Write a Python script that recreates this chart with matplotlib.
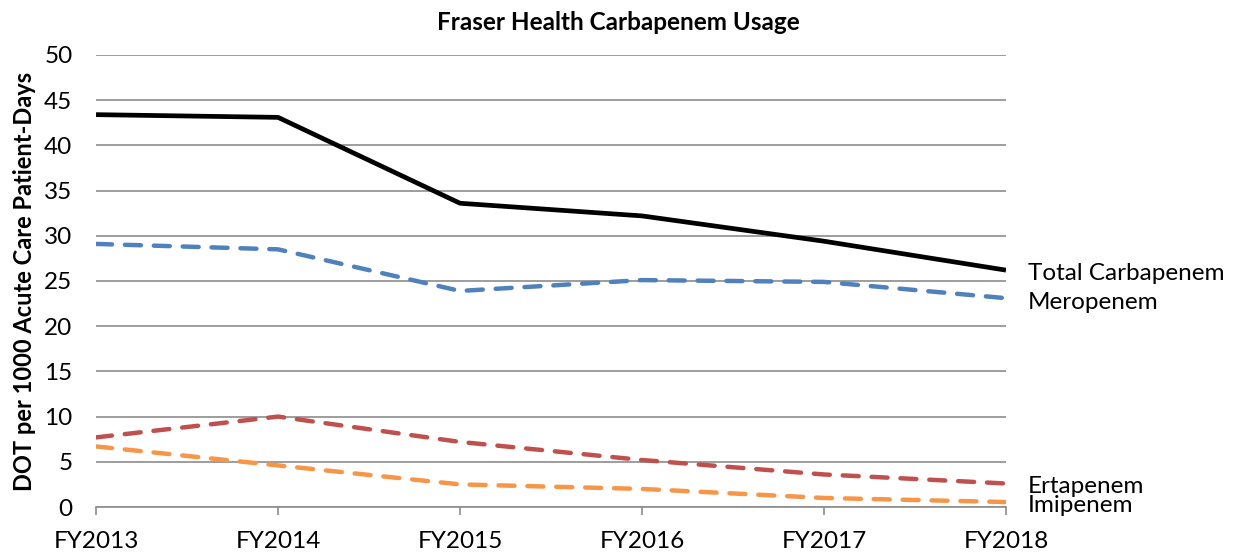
import matplotlib
matplotlib.use("Agg")
import matplotlib.pyplot as plt

plt.rcParams['font.family'] = ['Lato', 'DejaVu Sans']

years = ['FY2013', 'FY2014', 'FY2015', 'FY2016', 'FY2017', 'FY2018']
total = [43.4, 43.1, 33.6, 32.2, 29.4, 26.2]
meropenem = [29.1, 28.5, 23.9, 25.1, 24.9, 23.1]
ertapenem = [7.7, 10.0, 7.2, 5.2, 3.6, 2.6]
imipenem = [6.7, 4.6, 2.5, 2.0, 1.0, 0.55]

fig = plt.figure(figsize=(12.36, 5.52), dpi=100)
ax = fig.add_axes([0.0777, 0.0815, 0.7362, 0.8189])

x = range(len(years))
dash = dict(lw=3.2, dashes=(3.6, 2.9), dash_capstyle='round', zorder=4)
ax.plot(x, total, color='black', lw=3.4, solid_capstyle='butt', zorder=5)
ax.plot(x, meropenem, color='#4f81bd', **dash)
ax.plot(x, ertapenem, color='#c0504d', **dash)
ax.plot(x, imipenem, color='#f79646', **dash)

# series labels at the right end (y nudged so they don't overlap)
labels = [('Total Carbapenem', 25.8), ('Meropenem', 22.6),
          ('Ertapenem', 2.3), ('Imipenem', 0.2)]
for text, yv in labels:
    ax.annotate(text, xy=(x[-1], yv), xytext=(16, 0), textcoords='offset points',
                va='center', ha='left', fontsize=17.5, annotation_clip=False)

ax.set_xlim(0, len(years) - 1)
ax.set_ylim(0, 50)
ax.set_yticks(range(0, 51, 5))
ax.set_xticks(list(x))
ax.set_xticklabels(years)
ax.yaxis.grid(True, color='#8c8c8c', lw=1.2)
ax.set_axisbelow(True)
for s in ['top', 'right', 'left']:
    ax.spines[s].set_visible(False)
ax.spines['bottom'].set_color('#8c8c8c')
ax.spines['bottom'].set_linewidth(1.2)
ax.tick_params(axis='y', length=0, labelsize=17.5, pad=17)
ax.tick_params(axis='x', length=6, color='#8c8c8c', width=1.2, labelsize=17.5, pad=11)
ax.set_ylabel('DOT per 1000 Acute Care Patient-Days', fontsize=17, fontweight='bold', labelpad=6)

fig.text(0.5, 0.96, 'Fraser Health Carbapenem Usage', ha='center', va='center',
         fontsize=17.5, fontweight='bold')

fig.savefig('out.png', dpi=100)
